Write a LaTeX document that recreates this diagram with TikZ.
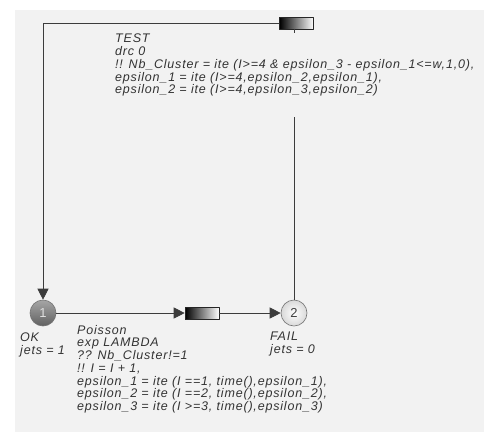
\documentclass[tikz,border=0pt]{standalone}
\usepackage{fontspec}
\setmainfont{Liberation Sans}[LetterSpace=6.5]
\usetikzlibrary{arrows.meta,shadings}
\definecolor{paneback}{HTML}{F2F2F2}
\definecolor{wireline}{HTML}{3C3C3C}

\begin{document}
\begin{tikzpicture}[x=1pt,y=-1pt,line cap=round,line join=round,
  place/.style={circle,draw=black!55,line width=0.6pt,minimum size=26pt,inner sep=0pt,font=\fontsize{13}{13}\selectfont},
  placeon/.style={place,top color=black!35,bottom color=black!62,text=black!12},
  placeoff/.style={place,inner color=white,outer color=black!15,text=black!75},
  trans/.style={rectangle,draw=black!85,line width=0.6pt,minimum width=34pt,minimum height=12pt,inner sep=0pt,left color=black,right color=white},
  arc/.style={draw=wireline,line width=0.7pt},
  tip/.style={-{Triangle[length=11pt,width=11pt]}},
  lbl/.style={align=left,inner sep=1pt,font=\fontsize{12.5}{12.7}\selectfont\itshape,text=black!80}]
  \useasboundingbox (0,0) rectangle (484,432);
  \fill[paneback] (15,10) rectangle (484,432);
  % places and transitions
  \node[placeon] (ok) at (43,313) {1};
  \node[placeoff] (fail) at (294,313) {2};
  \node[trans] (test) at (296.5,23) {};
  \node[trans] (poisson) at (202,313) {};
  % arcs
  \draw[arc] (fail.north) -- (fail.north |- test.south);
  \draw[arc,tip] (test.west) -| (ok.north);
  \draw[arc,tip] (ok.east) -- (poisson.west);
  \draw[arc,tip] (poisson.east) -- (fail.west);
  % labels
  \node[lbl,fill=paneback,anchor=north west] (testlbl) at (114,33) {TEST\\drc 0\\!! Nb\_Cluster = ite (I>=4 \& epsilon\_3 - epsilon\_1<=w,1,0),\\epsilon\_1 = ite (I>=4,epsilon\_2,epsilon\_1),\\epsilon\_2 = ite (I>=4,epsilon\_3,epsilon\_2)\\[10pt]};
  \node[lbl,anchor=north west] (oklbl) at (19,332) {OK\\jets = 1};
  \node[lbl,anchor=north west] (faillbl) at (269,331) {FAIL\\jets = 0};
  \node[lbl,anchor=north west] (poissonlbl) at (76,324) {Poisson\\exp LAMBDA\\?? Nb\_Cluster!=1\\!! I = I + 1,\\epsilon\_1 = ite (I ==1, time(),epsilon\_1),\\epsilon\_2 = ite (I ==2, time(),epsilon\_2),\\epsilon\_3 = ite (I >=3, time(),epsilon\_3)};
\end{tikzpicture}
\end{document}
